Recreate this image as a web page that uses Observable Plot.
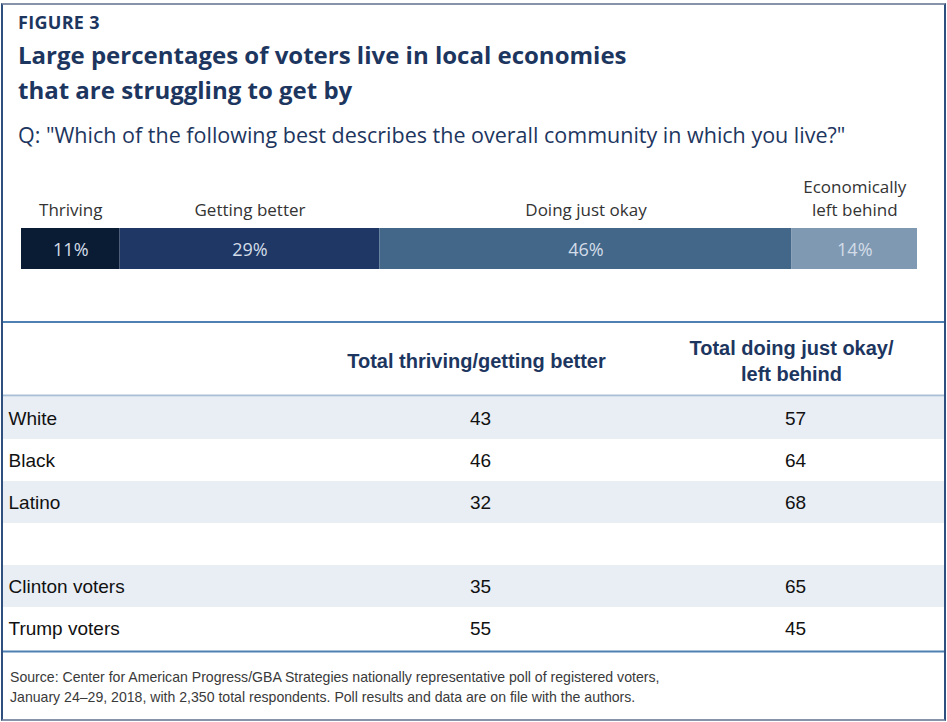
<!DOCTYPE html>
<html>
<head>
<meta charset="utf-8">
<script src="https://cdn.jsdelivr.net/npm/d3@7"></script>
<script src="https://cdn.jsdelivr.net/npm/@observablehq/plot@0.6"></script>
<style>
  body { margin: 0; background: #fff; }
  #wrap { position: relative; width: 947px; height: 722px; overflow: hidden; font-family: "Open Sans", "Noto Sans", sans-serif; }
  #frame { position: absolute; left: 1px; top: 3px; width: 945px; height: 718px; box-sizing: border-box;
           border-left: 2px solid #2f507e; border-right: 2px solid #2f507e;
           border-top: 2px solid #8793aa; border-bottom: 2px solid #8793aa; }
  .t { position: absolute; white-space: nowrap; color: #1d3660; }
  #fig { left: 18px; top: 13px; font-size: 18px; font-weight: 700; line-height: 18px; letter-spacing: 0.3px; }
  #title { left: 18px; top: 37px; font-size: 24px; font-weight: 700; line-height: 35px; letter-spacing: 0px; }
  #question { left: 18px; top: 123px; font-size: 21.5px; line-height: 23px; }
  #tline { position: absolute; left: 3px; top: 321px; width: 941px; height: 2px; background: #4f80b3; }
  #bar { position: absolute; left: 0; top: 170px; }
  #table { position: absolute; left: 3px; top: 323px; }
  #source { position: absolute; left: 10px; top: 667px; font-family: "Liberation Sans", Arial, sans-serif;
            font-size: 14.1px; line-height: 20px; color: #3a3a3a; white-space: nowrap; }
</style>
</head>
<body>
<div id="wrap">
  <div id="frame"></div>
  <div class="t" id="fig">FIGURE 3</div>
  <div class="t" id="title">Large percentages of voters live in local economies<br>that are struggling to get by</div>
  <div class="t" id="question">Q: "Which of the following best describes the overall community in which you live?"</div>
  <div id="bar"></div>
  <div id="tline"></div>
  <div id="table"></div>
  <div id="source">Source: Center for American Progress/GBA Strategies nationally representative poll of registered voters,<br>January 24–29, 2018, with 2,350 total respondents. Poll results and data are on file with the authors.</div>
</div>
<script>
// ---- data ----
const categories = ["Thriving", "Getting better", "Doing just okay", "Economically\nleft behind"];
const shares = [11, 29, 46, 14];
const barColors = ["#0a1c34", "#1e3764", "#426789", "#7f99b2"];

const rows = ["White", "Black", "Latino", "", "Clinton voters", "Trump voters"];
const thrivingBetter = [43, 46, 32, null, 35, 55];
const okayBehind = [57, 64, 68, null, 65, 45];
const shadedRows = ["White", "Latino", "Clinton voters"];
const columnKeys = ["thriving", "behind"];
const columnHeaders = ["Total thriving/getting better", "Total doing just okay/\nleft behind"];

// ---- stacked bar ----
const barData = categories.map((c, i) => ({category: c, share: shares[i]}));
const bar = Plot.plot({
  width: 947, height: 110,
  marginLeft: 21, marginRight: 30, marginTop: 58, marginBottom: 11,
  style: {fontFamily: '"Open Sans", "Noto Sans", sans-serif', background: "transparent"},
  x: {domain: [0, 100], axis: null},
  color: {domain: categories, range: barColors},
  marks: [
    Plot.barX(barData, Plot.stackX({x: "share", fill: "category", inset: 0})),
    Plot.text(barData, Plot.stackX({x: "share", text: d => d.share + "%", fill: "#d3dce8", fontSize: 18, frameAnchor: "middle", dy: 1})),
    Plot.text(barData, Plot.stackX({x: "share", text: "category", fill: "#333333", fontSize: 17, frameAnchor: "top", lineAnchor: "bottom", dy: -13, lineHeight: 1.3}))
  ]
});
document.getElementById("bar").appendChild(bar);

// ---- table ----
const cells = rows.flatMap((r, i) => [
  {row: r, col: "thriving", value: thrivingBetter[i]},
  {row: r, col: "behind", value: okayBehind[i]}
]).filter(d => d.value != null);
const headers = columnKeys.map((k, i) => ({col: k, label: columnHeaders[i]}));
const condensed = '"Liberation Sans", Arial, sans-serif';

const table = Plot.plot({
  width: 941, height: 330,
  marginLeft: 0, marginRight: 0, marginTop: 72, marginBottom: 2,
  style: {fontFamily: condensed, background: "transparent"},
  x: {type: "point", domain: columnKeys, range: [477, 792], padding: 0, axis: null},
  y: {type: "band", domain: rows, padding: 0, axis: null},
  marks: [
    Plot.cell(shadedRows, {y: d => d, fill: "#e9eef5"}),
    Plot.frame({anchor: "top", stroke: "#a9bfd6", strokeWidth: 2}),
    Plot.frame({anchor: "bottom", stroke: "#4f80b3", strokeWidth: 2}),
    Plot.text(headers, {x: "col", text: "label", frameAnchor: "top", dy: -36, dx: -4, lineAnchor: "middle",
      fontSize: 20, fontWeight: "bold", fill: "#1d3660", lineHeight: 1.3}),
    Plot.text(rows.filter(r => r !== ""), {y: d => d, text: d => d, frameAnchor: "left", textAnchor: "start", dx: 5, fontSize: 19, fill: "#111"}),
    Plot.text(cells, {x: "col", y: "row", text: "value", fontSize: 19, fill: "#111"})
  ]
});
document.getElementById("table").appendChild(table);
</script>
</body>
</html>
